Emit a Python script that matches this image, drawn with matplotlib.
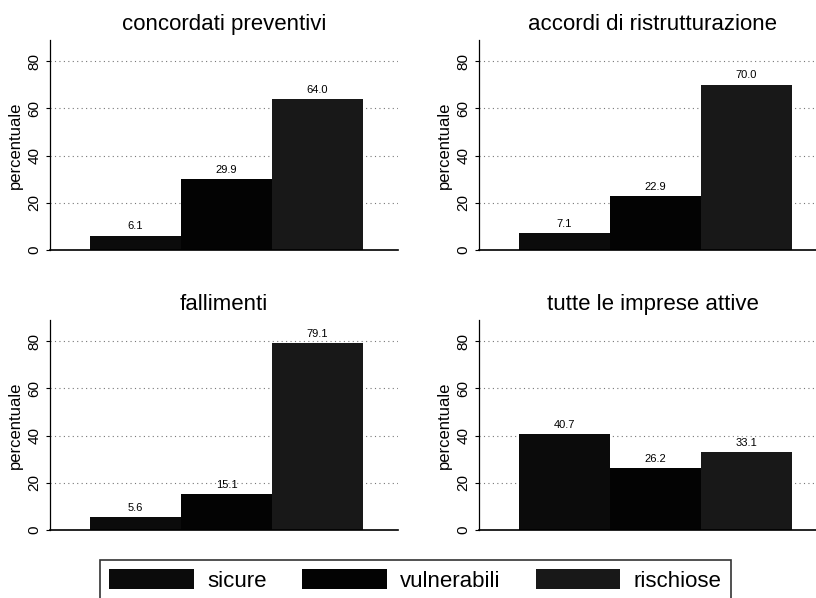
import matplotlib
matplotlib.use("Agg")
import matplotlib.pyplot as plt
from matplotlib.patches import Patch
import numpy as np

plt.rcParams['font.family'] = ['Liberation Sans', 'DejaVu Sans']

# dati
gruppi = ['sicure', 'vulnerabili', 'rischiose']
titoli = ['concordati preventivi', 'accordi di ristrutturazione',
          'fallimenti', 'tutte le imprese attive']
concordati = [6.1, 29.9, 64.0]
accordi = [7.1, 22.9, 70.0]
fallimenti = [5.6, 15.1, 79.1]
tutte = [40.7, 26.2, 33.1]
serie = [concordati, accordi, fallimenti, tutte]
yticks = [0, 20, 40, 60, 80]

colori = ['#0b0b0b', '#030303', '#181818']

fig = plt.figure(figsize=(8.16, 5.98), dpi=100)

W, H = 816.0, 598.0
# (left px, y of zero line px)
posizioni = [(50, 250), (479, 250), (50, 530), (479, 530)]
aw, ah = 348, 210

x = np.arange(len(gruppi))
for (lx, y0), titolo, vals in zip(posizioni, titoli, serie):
    ax = fig.add_axes([lx / W, 1 - y0 / H, aw / W, ah / H])
    bars = ax.bar(x, vals, width=1.0, color=colori, edgecolor='none')
    ax.bar_label(bars, fmt='%.1f', padding=3, fontsize=8)
    ax.set_xlim(-0.94, 2.885)
    ax.set_ylim(0, 88.9)
    ax.set_xticks([])
    ax.set_yticks(yticks)
    ax.set_yticklabels([str(v) for v in yticks], fontsize=11)
    for lbl in ax.get_yticklabels():
        lbl.set_rotation(90)
        lbl.set_va('center')
    ax.tick_params(axis='y', length=3, width=0.8, pad=3)
    ax.yaxis.grid(True, linestyle=(0, (1, 3)), color='#777777', lw=0.8)
    ax.set_axisbelow(True)
    for s in ['top', 'right']:
        ax.spines[s].set_visible(False)
    ax.spines['left'].set_linewidth(0.9)
    ax.spines['bottom'].set_linewidth(1.2)
    ax.set_ylabel('percentuale', fontsize=12)
    ax.yaxis.set_label_coords(-0.078, 0.5)
    ax.set_title(titolo, fontsize=16, pad=7)

handles = [Patch(facecolor=c, edgecolor='none') for c in colori]
leg = fig.legend(handles, gruppi, loc='upper center', ncol=3,
                 bbox_to_anchor=(415.5 / W, 1 - 560 / H), borderaxespad=0,
                 fontsize=16, handlelength=3.8, handleheight=1.0,
                 handletextpad=0.6, columnspacing=1.6, borderpad=0.42,
                 frameon=True, fancybox=False, edgecolor='black')
leg.get_frame().set_linewidth(1.2)

fig.savefig('out.png', dpi=100)
